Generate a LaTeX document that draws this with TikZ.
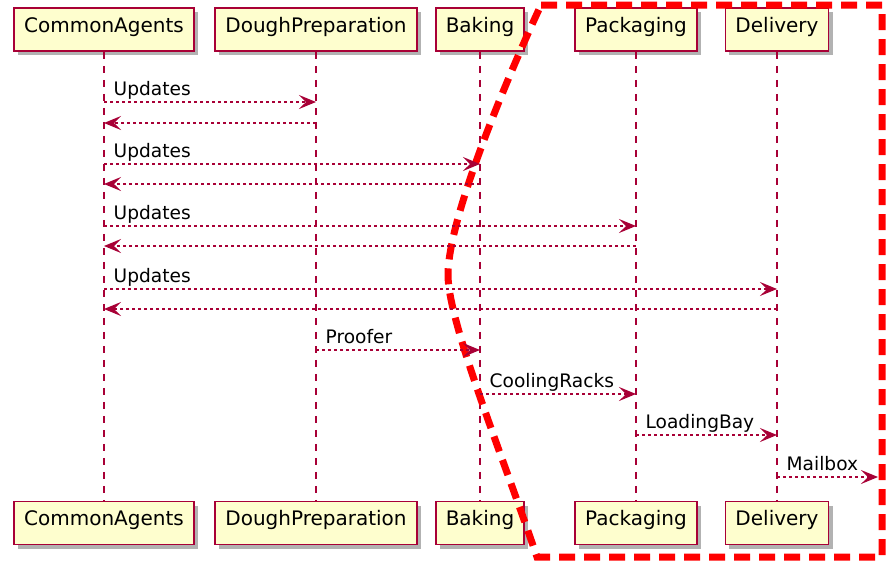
\documentclass[tikz,border=0pt]{standalone}
\usepackage{fontspec}
\setmainfont{DejaVu Sans}
\usepackage{xcolor}
\definecolor{cLine}{HTML}{A80036}
\definecolor{cFill}{HTML}{FEFECE}
\definecolor{cCut}{HTML}{FF0000}
\usetikzlibrary{arrows.meta,shadows}
\tikzset{
  actor-box/.style={draw=cLine,line width=1.8pt,fill=cFill,
    minimum height=43pt,inner xsep=10pt,text height=0.75em,text depth=0.25em,
    font=\fontsize{20}{24}\selectfont,
    drop shadow={shadow xshift=4pt,shadow yshift=-4pt,fill=black,opacity=0.3}},
  lifeline/.style={draw=cLine,line width=1.3pt,dash pattern=on 7pt off 7pt},
  msg/.style={-{Stealth[length=17pt,width=14pt,inset=7pt]},draw=cLine,
    line width=1.3pt,dash pattern=on 3pt off 3pt},
  msg-label/.style={anchor=base west,xshift=9pt,yshift=7pt,inner sep=0pt,
    font=\fontsize{18.6}{22}\selectfont},
  cut-border/.style={draw=cCut,line width=7pt,dash pattern=on 16pt off 9pt},
}
\begin{document}
\begin{tikzpicture}[x=1pt,y=-1pt]
  \useasboundingbox (0,0) rectangle (892,566);
  % participants, top and bottom
  \node[actor-box] (ca-top) at (104,29.5) {CommonAgents};
  \node[actor-box] (dp-top) at (316,29.5) {DoughPreparation};
  \node[actor-box] (bk-top) at (480,29.5) {Baking};
  \node[actor-box] (pk-top) at (636,29.5) {Packaging};
  \node[actor-box] (dv-top) at (777,29.5) {Delivery};
  \node[actor-box] (ca-bot) at (104,523) {CommonAgents};
  \node[actor-box] (dp-bot) at (316,523) {DoughPreparation};
  \node[actor-box] (bk-bot) at (480,523) {Baking};
  \node[actor-box] (pk-bot) at (636,523) {Packaging};
  \node[actor-box] (dv-bot) at (777,523) {Delivery};
  \draw[lifeline] (ca-top) -- (ca-bot);
  \draw[lifeline] (dp-top) -- (dp-bot);
  \draw[lifeline] (bk-top) -- (bk-bot);
  \draw[lifeline] (pk-top) -- (pk-bot);
  \draw[lifeline] (dv-top) -- (dv-bot);
  % red cut border
  \draw[cut-border] (541,5) -- (882,5) -- (882,557) -- (537,557)
    .. controls (503,457) and (448,322) .. (448,275)
    .. controls (448,215) and (513,65) .. (541,5);
  % message rows
  \coordinate (r1) at (0,102);  \coordinate (r2) at (0,123);
  \coordinate (r3) at (0,164);  \coordinate (r4) at (0,184);
  \coordinate (r5) at (0,226);  \coordinate (r6) at (0,246);
  \coordinate (r7) at (0,289);  \coordinate (r8) at (0,309);
  \coordinate (r9) at (0,350);  \coordinate (r10) at (0,394);
  \coordinate (r11) at (0,435); \coordinate (mail-end) at (878,477);
  \draw[msg] (ca-top |- r1) -- (dp-top |- r1) node[msg-label,pos=0] {Updates};
  \draw[msg] (dp-top |- r2) -- (ca-top |- r2);
  \draw[msg] (ca-top |- r3) -- (bk-top |- r3) node[msg-label,pos=0] {Updates};
  \draw[msg] (bk-top |- r4) -- (ca-top |- r4);
  \draw[msg] (ca-top |- r5) -- (pk-top |- r5) node[msg-label,pos=0] {Updates};
  \draw[msg] (pk-top |- r6) -- (ca-top |- r6);
  \draw[msg] (ca-top |- r7) -- (dv-top |- r7) node[msg-label,pos=0] {Updates};
  \draw[msg] (dv-top |- r8) -- (ca-top |- r8);
  \draw[msg] (dp-top |- r9) -- (bk-top |- r9) node[msg-label,pos=0] {Proofer};
  \draw[msg] (bk-top |- r10) -- (pk-top |- r10) node[msg-label,pos=0] {CoolingRacks};
  \draw[msg] (pk-top |- r11) -- (dv-top |- r11) node[msg-label,pos=0] {LoadingBay};
  \draw[msg] (dv-top |- mail-end) -- (mail-end) node[msg-label,pos=0] {Mailbox};
\end{tikzpicture}
\end{document}
